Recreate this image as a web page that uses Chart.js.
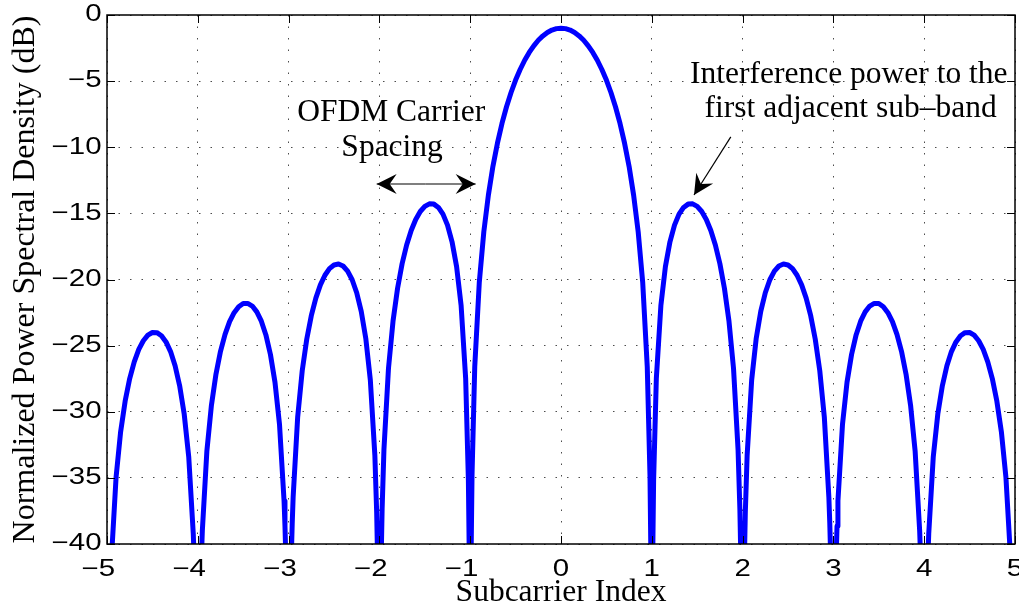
<!DOCTYPE html>
<html>
<head>
<meta charset="utf-8">
<script src="https://cdn.jsdelivr.net/npm/chart.js@4.4.0/dist/chart.umd.min.js"></script>
<style>
  html, body { margin: 0; padding: 0; background: #fff; }
  #wrap { width: 1019px; height: 612px; }
</style>
</head>
<body>
<div id="wrap"><canvas id="psd"></canvas></div>
<script>
// subcarrier offset (normalised to carrier spacing)
const subcarrier = [
  -4.95, -4.90, -4.85, -4.80, -4.75, -4.70, -4.65, -4.60, -4.55, -4.50,
  -4.45, -4.40, -4.35, -4.30, -4.25, -4.20, -4.15, -4.10, -4.05, -4.04,
  -3.96, -3.95, -3.90, -3.85, -3.80, -3.75, -3.70, -3.65, -3.60, -3.55,
  -3.50, -3.45, -3.40, -3.35, -3.30, -3.25, -3.20, -3.15, -3.10, -3.05,
  -3.04, -3.03, -2.97, -2.96, -2.95, -2.90, -2.85, -2.80, -2.75, -2.70,
  -2.65, -2.60, -2.55, -2.50, -2.45, -2.40, -2.35, -2.30, -2.25, -2.20,
  -2.15, -2.10, -2.05, -2.03, -2.02, -1.98, -1.97, -1.95, -1.90, -1.85,
  -1.80, -1.75, -1.70, -1.65, -1.60, -1.55, -1.50, -1.45, -1.40, -1.35,
  -1.30, -1.25, -1.20, -1.15, -1.10, -1.05, -1.02, -1.01, -0.99, -0.98,
  -0.95, -0.90, -0.85, -0.80, -0.75, -0.70, -0.65, -0.60, -0.55, -0.50,
  -0.45, -0.40, -0.35, -0.30, -0.25, -0.20, -0.15, -0.10, -0.05, 0.00,
  0.05, 0.10, 0.15, 0.20, 0.25, 0.30, 0.35, 0.40, 0.45, 0.50,
  0.55, 0.60, 0.65, 0.70, 0.75, 0.80, 0.85, 0.90, 0.95, 0.98,
  0.99, 1.01, 1.02, 1.05, 1.10, 1.15, 1.20, 1.25, 1.30, 1.35,
  1.40, 1.45, 1.50, 1.55, 1.60, 1.65, 1.70, 1.75, 1.80, 1.85,
  1.90, 1.95, 1.97, 1.98, 2.02, 2.03, 2.05, 2.10, 2.15, 2.20,
  2.25, 2.30, 2.35, 2.40, 2.45, 2.50, 2.55, 2.60, 2.65, 2.70,
  2.75, 2.80, 2.85, 2.90, 2.95, 2.96, 2.97, 3.03, 3.04, 3.05,
  3.10, 3.15, 3.20, 3.25, 3.30, 3.35, 3.40, 3.45, 3.50, 3.55,
  3.60, 3.65, 3.70, 3.75, 3.80, 3.85, 3.90, 3.95, 3.96, 4.04,
  4.05, 4.10, 4.15, 4.20, 4.25, 4.30, 4.35, 4.40, 4.45, 4.50,
  4.55, 4.60, 4.65, 4.70, 4.75, 4.80, 4.85, 4.90, 4.95
];

// normalised PSD in dB at each subcarrier offset
const psdDb = [
  -40.95, -34.95, -31.52, -29.19, -27.49, -26.23, -25.29, -24.63, -24.21, -24.01,
  -24.02, -24.25, -24.72, -25.45, -26.52, -28.03, -30.16, -33.40, -39.21, -41.11,
  -40.94, -38.99, -32.96, -29.51, -27.16, -25.43, -24.15, -23.19, -22.51, -22.06,
  -21.82, -21.81, -22.01, -22.45, -23.15, -24.19, -25.67, -27.77, -30.97, -36.74,
  -38.64, -41.10, -40.93, -38.41, -36.45, -30.39, -26.90, -24.51, -22.74, -21.41,
  -20.41, -19.68, -19.18, -18.90, -18.83, -18.98, -19.37, -20.02, -21.00, -22.41,
  -24.45, -27.59, -33.29, -37.62, -41.09, -40.92, -37.36, -32.86, -26.72, -23.15,
  -20.67, -18.81, -17.39, -16.30, -15.46, -14.86, -14.47, -14.28, -14.30, -14.55,
  -15.06, -15.89, -17.15, -19.02, -21.97, -27.48, -35.16, -41.09, -40.92, -34.81,
  -26.61, -20.23, -16.39, -13.63, -11.45, -9.69, -8.20, -6.94, -5.86, -4.92,
  -4.12, -3.42, -2.83, -2.33, -1.91, -1.58, -1.32, -1.14, -1.03, -1.00,
  -1.03, -1.14, -1.32, -1.58, -1.91, -2.33, -2.83, -3.42, -4.12, -4.92,
  -5.86, -6.94, -8.20, -9.69, -11.45, -13.63, -16.39, -20.23, -26.61, -34.81,
  -40.92, -41.09, -35.16, -27.48, -21.97, -19.02, -17.15, -15.89, -15.06, -14.55,
  -14.30, -14.28, -14.47, -14.86, -15.46, -16.30, -17.39, -18.81, -20.67, -23.15,
  -26.72, -32.86, -37.36, -40.92, -41.09, -37.62, -33.29, -27.59, -24.45, -22.41,
  -21.00, -20.02, -19.37, -18.98, -18.83, -18.90, -19.18, -19.68, -20.41, -21.41,
  -22.74, -24.51, -26.90, -30.39, -36.45, -38.41, -40.93, -41.10, -38.64, -36.74,
  -30.97, -27.77, -25.67, -24.19, -23.15, -22.45, -22.01, -21.81, -21.82, -22.06,
  -22.51, -23.19, -24.15, -25.43, -27.16, -29.51, -32.96, -38.99, -40.94, -41.11,
  -39.21, -33.40, -30.16, -28.03, -26.52, -25.45, -24.72, -24.25, -24.02, -24.01,
  -24.21, -24.63, -25.29, -26.23, -27.49, -29.19, -31.52, -34.95, -40.95
];

const xTicks = [-5, -4, -3, -2, -1, 0, 1, 2, 3, 4, 5];
const yTicks = [0, -5, -10, -15, -20, -25, -30, -35, -40];

// text notes and arrows, in data units
const notes = [
  { text: 'OFDM Carrier', x: -1.87, y: -8.02 },
  { text: 'Spacing', x: -1.86, y: -10.66 },
  { text: 'Interference power to the', x: 3.17, y: -5.14 },
  { text: 'first adjacent sub\u2013band', x: 3.19, y: -7.71 }
];
const arrows = [
  { from: [-1.49, -12.78], to: [-2.03, -12.78] },
  { from: [-1.49, -12.78], to: [-0.94, -12.78] },
  { from: [1.87, -9.22], to: [1.465, -13.61] }
];

const serif = '"Liberation Serif", "Times New Roman", serif';
const sans = '23px "Liberation Sans", Arial, sans-serif';

function arrowHead(ctx, x0, y0, x1, y1) {
  const a = Math.atan2(y1 - y0, x1 - x0);
  const len = 20, half = 10, notch = 13;
  ctx.save();
  ctx.translate(x1, y1);
  ctx.rotate(a);
  ctx.beginPath();
  ctx.moveTo(0, 0);
  ctx.lineTo(-len, -half);
  ctx.lineTo(-notch, 0);
  ctx.lineTo(-len, half);
  ctx.closePath();
  ctx.fill();
  ctx.restore();
}

// tick label: digits anchored on the tick, minus sign hung to the left, wide glyphs
function tickLabel(ctx, v, x, y, align) {
  const digits = String(Math.abs(v));
  ctx.save();
  ctx.translate(x, y);
  ctx.scale(1.28, 1);
  ctx.font = sans;
  ctx.textBaseline = 'middle';
  const dw = ctx.measureText(digits).width;
  const left = align === 'right' ? -dw : -dw / 2;
  ctx.textAlign = 'left';
  ctx.fillText(digits, left, 0);
  if (v < 0) {
    ctx.textAlign = 'right';
    ctx.fillText('\u2212', left, 0);
  }
  ctx.restore();
}

const frame = {
  id: 'frame',
  afterDatasetsDraw(chart) {
    const { ctx, chartArea: a, scales } = chart;
    ctx.save();
    ctx.strokeStyle = '#000';
    ctx.fillStyle = '#000';
    ctx.lineWidth = 1;
    // inward ticks on all four sides
    ctx.beginPath();
    xTicks.forEach(v => {
      const px = Math.round(scales.x.getPixelForValue(v)) + 0.5;
      ctx.moveTo(px, a.bottom); ctx.lineTo(px, a.bottom - 8);
      ctx.moveTo(px, a.top); ctx.lineTo(px, a.top + 8);
    });
    yTicks.forEach(v => {
      const py = Math.round(scales.y.getPixelForValue(v)) + 0.5;
      ctx.moveTo(a.left, py); ctx.lineTo(a.left + 8, py);
      ctx.moveTo(a.right, py); ctx.lineTo(a.right - 8, py);
    });
    ctx.stroke();
    ctx.lineWidth = 1.5;
    ctx.strokeRect(a.left, a.top, a.right - a.left, a.bottom - a.top);

    xTicks.forEach(v => tickLabel(ctx, v, scales.x.getPixelForValue(v), a.bottom + 26, 'center'));
    yTicks.forEach(v => tickLabel(ctx, v, a.left - 5.5, scales.y.getPixelForValue(v), 'right'));

    // annotations
    ctx.font = '31.5px ' + serif;
    ctx.textAlign = 'center';
    ctx.textBaseline = 'alphabetic';
    notes.forEach(n => {
      ctx.fillText(n.text, scales.x.getPixelForValue(n.x), scales.y.getPixelForValue(n.y));
    });
    ctx.lineWidth = 1.2;
    arrows.forEach(r => {
      const x0 = scales.x.getPixelForValue(r.from[0]);
      const y0 = scales.y.getPixelForValue(r.from[1]);
      const x1 = scales.x.getPixelForValue(r.to[0]);
      const y1 = scales.y.getPixelForValue(r.to[1]);
      ctx.beginPath();
      ctx.moveTo(x0, y0);
      ctx.lineTo(x1, y1);
      ctx.stroke();
      arrowHead(ctx, x0, y0, x1, y1);
    });
    ctx.restore();
  }
};

new Chart(document.getElementById('psd'), {
  type: 'line',
  data: {
    datasets: [{
      data: subcarrier.map((x, i) => ({ x, y: psdDb[i] })),
      borderColor: '#0000ff',
      borderWidth: 5,
      borderJoinStyle: 'round',
      borderCapStyle: 'round',
      pointRadius: 0,
      tension: 0,
      fill: false,
      clip: 0
    }]
  },
  options: {
    responsive: true,
    maintainAspectRatio: false,
    animation: false,
    layout: { padding: { top: 15, right: 4, left: 0, bottom: 0 } },
    plugins: { legend: { display: false }, tooltip: { enabled: false } },
    scales: {
      x: {
        type: 'linear',
        min: -5, max: 5,
        afterBuildTicks: s => { s.ticks = xTicks.map(value => ({ value })); },
        afterFit: s => { s.height = 68; s.paddingLeft = 0; s.paddingRight = 0; },
        ticks: { display: false },
        grid: { color: 'rgba(0,0,0,0.7)', lineWidth: 1, drawTicks: false },
        border: { display: false, dash: [1.5, 10] },
        title: {
          display: true, text: 'Subcarrier Index', color: '#000',
          font: { family: serif, size: 31.5 },
          padding: { top: 0, bottom: 0 }
        }
      },
      y: {
        min: -40, max: 0,
        afterBuildTicks: s => { s.ticks = yTicks.map(value => ({ value })); },
        afterFit: s => { s.width = 107; s.paddingTop = 0; s.paddingBottom = 0; },
        ticks: { display: false },
        grid: { color: 'rgba(0,0,0,0.7)', lineWidth: 1, drawTicks: false },
        border: { display: false, dash: [1.5, 10] },
        title: {
          display: true, text: 'Normalized Power Spectral Density (dB)', color: '#000',
          font: { family: serif, size: 32 },
          padding: { top: 6, bottom: 0 }
        }
      }
    }
  },
  plugins: [frame]
});
</script>
</body>
</html>
